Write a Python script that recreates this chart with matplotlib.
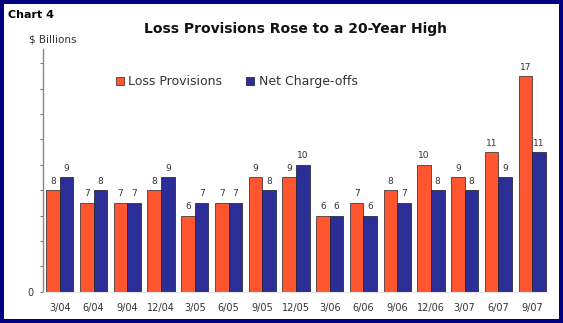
import numpy as np
import matplotlib.pyplot as plt
from matplotlib.patches import Rectangle

quarters = ['3/04', '6/04', '9/04', '12/04', '3/05', '6/05', '9/05', '12/05',
            '3/06', '6/06', '9/06', '12/06', '3/07', '6/07', '9/07']
loss_provisions = [8, 7, 7, 8, 6, 7, 9, 9, 6, 7, 8, 10, 9, 11, 17]
net_charge_offs = [9, 8, 7, 9, 7, 7, 8, 10, 6, 6, 7, 8, 8, 9, 11]

orange = '#FF5630'
blue = '#2B2E96'
navy = '#000080'

fig = plt.figure(figsize=(5.63, 3.23), dpi=100)
fig.patch.set_facecolor(navy)
fig.patches.append(Rectangle((3.5 / 563, 4.5 / 323), 555.5 / 563, 314.5 / 323,
                             transform=fig.transFigure, facecolor='white',
                             edgecolor='none', zorder=-10))

ax = fig.add_axes([43 / 563, 1 - 291.7 / 323, 506 / 563, 242.4 / 323])
ax.set_facecolor('none')

x = np.arange(len(quarters))
w = 0.404
b1 = ax.bar(x - w / 2, loss_provisions, w, color=orange, edgecolor='#4a3a3a', linewidth=0.6, label='Loss Provisions')
b2 = ax.bar(x + w / 2, net_charge_offs, w, color=blue, edgecolor='#2a2a3a', linewidth=0.6, label='Net Charge-offs')

for bars, vals in ((b1, loss_provisions), (b2, net_charge_offs)):
    for r, v in zip(bars, vals):
        ax.text(r.get_x() + r.get_width() / 2, v + 0.35, str(v), ha='center', va='bottom',
                fontsize=6.5, color='#333333')

ax.set_xlim(-0.5, len(quarters) - 0.5)
ax.set_ylim(0, 19.1)
ax.set_xticks(x)
ax.set_xticklabels(quarters, fontsize=7, color='#333333')
ax.tick_params(axis='x', length=0, pad=8)
ax.set_yticks(np.arange(0, 19, 2))
ax.set_yticklabels(['0'] + [''] * 9, fontsize=7, color='#333333')
ax.tick_params(axis='y', length=2.5, width=0.8, color='#777777', pad=4)

for s in ('top', 'right'):
    ax.spines[s].set_visible(False)
ax.spines['left'].set_color('#888888')
ax.spines['left'].set_linewidth(1.0)
ax.spines['bottom'].set_color('#dddddd')
ax.spines['bottom'].set_linestyle(':')
ax.spines['bottom'].set_linewidth(0.8)

fig.text(8 / 563, 1 - 14.7 / 323, 'Chart 4', fontsize=8, fontweight='bold', va='center', ha='left')
fig.text(295 / 563, 1 - 29 / 323, 'Loss Provisions Rose to a 20-Year High', fontsize=10,
         fontweight='bold', va='center', ha='center', color='#111111')
fig.text(29 / 563, 1 - 39.5 / 323, '$ Billions', fontsize=7.5, va='center', ha='left', color='#333333')

fig.legend(handles=[b1, b2], loc='center left', bbox_to_anchor=(116 / 563, 1 - 81.7 / 323),
           bbox_transform=fig.transFigure, ncol=2, frameon=False, fontsize=9,
           handlelength=0.6, handleheight=0.6, handletextpad=0.4, columnspacing=1.9,
           borderpad=0, borderaxespad=0, labelcolor='#333333')

fig.savefig('out.png', dpi=100, facecolor=fig.get_facecolor())
